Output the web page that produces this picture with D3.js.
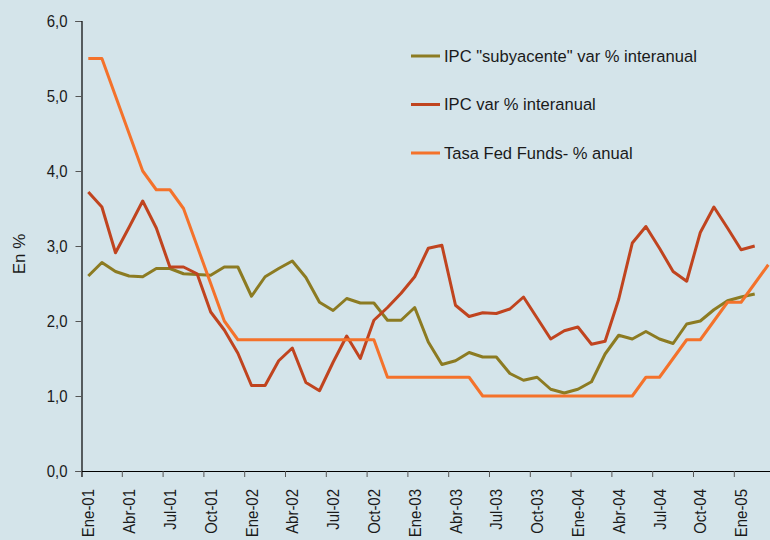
<!DOCTYPE html>
<html>
<head>
<meta charset="utf-8">
<script src="https://cdn.jsdelivr.net/npm/d3@7"></script>
<style>
    body { margin: 0; background: #d4e4ea; }
    #chart { width: 770px; height: 540px; }
</style>
</head>
<body>
<div id="chart"></div>
<script>
// Données mensuelles Ene-01 ... Abr-05
const mois = ["Ene","Feb","Mar","Abr","May","Jun","Jul","Ago","Sep","Oct","Nov","Dic"];
const annees = ["01","02","03","04","05"];

const ticksX = ["Ene-01","Abr-01","Jul-01","Oct-01","Ene-02","Abr-02","Jul-02","Oct-02",
    "Ene-03","Abr-03","Jul-03","Oct-03","Ene-04","Abr-04","Jul-04","Oct-04","Ene-05"];
const ticksY = [0, 1, 2, 3, 4, 5, 6];

const ipcSubyacente = [
    2.6, 2.78, 2.66, 2.6, 2.59, 2.7, 2.7, 2.63, 2.62, 2.61, 2.72, 2.72,
    2.33, 2.59, 2.7, 2.8, 2.58, 2.25, 2.14, 2.3, 2.24, 2.24, 2.01, 2.01,
    2.18, 1.72, 1.42, 1.47, 1.58, 1.52, 1.52, 1.3, 1.21, 1.25, 1.09, 1.04,
    1.09, 1.19, 1.56, 1.81, 1.76, 1.86, 1.76, 1.7, 1.96, 2.0, 2.15, 2.27,
    2.32, 2.36
];
const ipc = [
    3.72, 3.52, 2.91, 3.25, 3.6, 3.24, 2.72, 2.72, 2.63, 2.12, 1.88, 1.57,
    1.14, 1.14, 1.47, 1.64, 1.18, 1.07, 1.45, 1.8, 1.5, 2.01, 2.18, 2.37,
    2.59, 2.97, 3.01, 2.21, 2.06, 2.11, 2.1, 2.16, 2.32, 2.04, 1.76, 1.87,
    1.92, 1.69, 1.73, 2.29, 3.04, 3.26, 2.97, 2.66, 2.53, 3.18, 3.52, 3.24,
    2.95, 3.0
];
const fedFunds = [
    5.5, 5.5, 5.0, 4.5, 4.0, 3.75, 3.75, 3.5, 3.0, 2.5, 2.0, 1.75,
    1.75, 1.75, 1.75, 1.75, 1.75, 1.75, 1.75, 1.75, 1.75, 1.75, 1.25, 1.25,
    1.25, 1.25, 1.25, 1.25, 1.25, 1.0, 1.0, 1.0, 1.0, 1.0, 1.0, 1.0,
    1.0, 1.0, 1.0, 1.0, 1.0, 1.25, 1.25, 1.5, 1.75, 1.75, 2.0, 2.25,
    2.25, 2.5, 2.75
];

const series = [
    { nom: 'IPC "subyacente" var % interanual', valeurs: ipcSubyacente, couleur: "#8c7b22" },
    { nom: "IPC var % interanual", valeurs: ipc, couleur: "#c0441f" },
    { nom: "Tasa Fed Funds- % anual", valeurs: fedFunds, couleur: "#f4722b" }
];

// liste des mois (52 catégories)
const categories = [];
annees.forEach(a => mois.forEach(m => categories.push(m + "-" + a)));
categories.length = 52;

const width = 770;
const height = 540;
const marginLeft = 81.5;
const marginTop = 21;
const axeY = 471;
const pas = 13.6;
const etroit = 0.88; // compression horizontale du texte (police condensée)

const x = d3.scaleBand()
    .domain(categories)
    .range([marginLeft, marginLeft + categories.length * pas])
    .paddingInner(0).paddingOuter(0);

const y = d3.scaleLinear()
    .domain([0, 6])
    .range([axeY, marginTop]);

const police = '"Liberation Sans Narrow", "Arial Narrow", "Liberation Sans", sans-serif';

const svg = d3.select("#chart")
    .append("svg")
    .attr("width", width)
    .attr("height", height);

svg.append("rect").attr("width", width).attr("height", height).attr("fill", "#d4e4ea");

// Axe Y
const gy = svg.append("g")
    .attr("transform", `translate(${marginLeft},0)`)
    .call(d3.axisLeft(y).tickValues(ticksY).tickSize(6).tickPadding(8)
        .tickFormat(d => d3.format(".1f")(d).replace(".", ",")));
gy.select(".domain").attr("stroke", "#000").attr("stroke-width", 1.2);
gy.selectAll(".tick line").attr("stroke", "#555");
gy.selectAll("text")
    .attr("x", -14 / etroit)
    .attr("transform", `scale(${etroit},1)`)
    .style("font-family", police).style("font-size", "17px").attr("fill", "#1a1a1a");

// Axe X (traits entre les catégories)
const bw = x.bandwidth();
const gx = svg.append("g")
    .attr("transform", `translate(0,${axeY})`)
    .call(d3.axisBottom(x).tickValues(ticksX).tickSizeOuter(0).tickSize(6));
gx.select(".domain").attr("stroke", "#000").attr("stroke-width", 1.2);
gx.selectAll(".tick line").attr("x1", -bw / 2).attr("x2", -bw / 2).attr("stroke", "#555");
gx.selectAll("text")
    .attr("transform", `rotate(-90) scale(${etroit},1)`)
    .attr("x", -18 / etroit)
    .attr("y", 0)
    .attr("dy", "0.36em")
    .attr("text-anchor", "end")
    .style("font-family", police)
    .style("font-size", "17px")
    .attr("fill", "#1a1a1a");

// Libellé axe Y
svg.append("text")
    .attr("transform", "translate(25,254) rotate(-90)")
    .attr("text-anchor", "middle")
    .style("font-family", police)
    .style("font-size", "17px")
    .attr("fill", "#1a1a1a")
    .text("En %");

// Courbes
const ligne = d3.line()
    .x((d, i) => x(categories[i]) + bw / 2)
    .y(d => y(d));

series.forEach(s => {
    svg.append("path")
        .datum(s.valeurs)
        .attr("d", ligne)
        .attr("fill", "none")
        .attr("stroke", s.couleur)
        .attr("stroke-width", 3)
        .attr("stroke-linejoin", "round");
});

// Légende
const legende = svg.append("g").attr("transform", "translate(411,56)");
series.forEach((s, i) => {
    const g = legende.append("g").attr("transform", `translate(0,${i * 48.5})`);
    g.append("line").attr("x1", 0).attr("x2", 29).attr("stroke", s.couleur).attr("stroke-width", 3);
    g.append("text")
        .attr("x", 33 / 0.975)
        .attr("dy", "0.35em")
        .attr("transform", "scale(0.975,1)")
        .style("font-family", police)
        .style("font-size", "17px")
        .attr("fill", "#1a1a1a")
        .text(s.nom);
});
</script>
</body>
</html>
